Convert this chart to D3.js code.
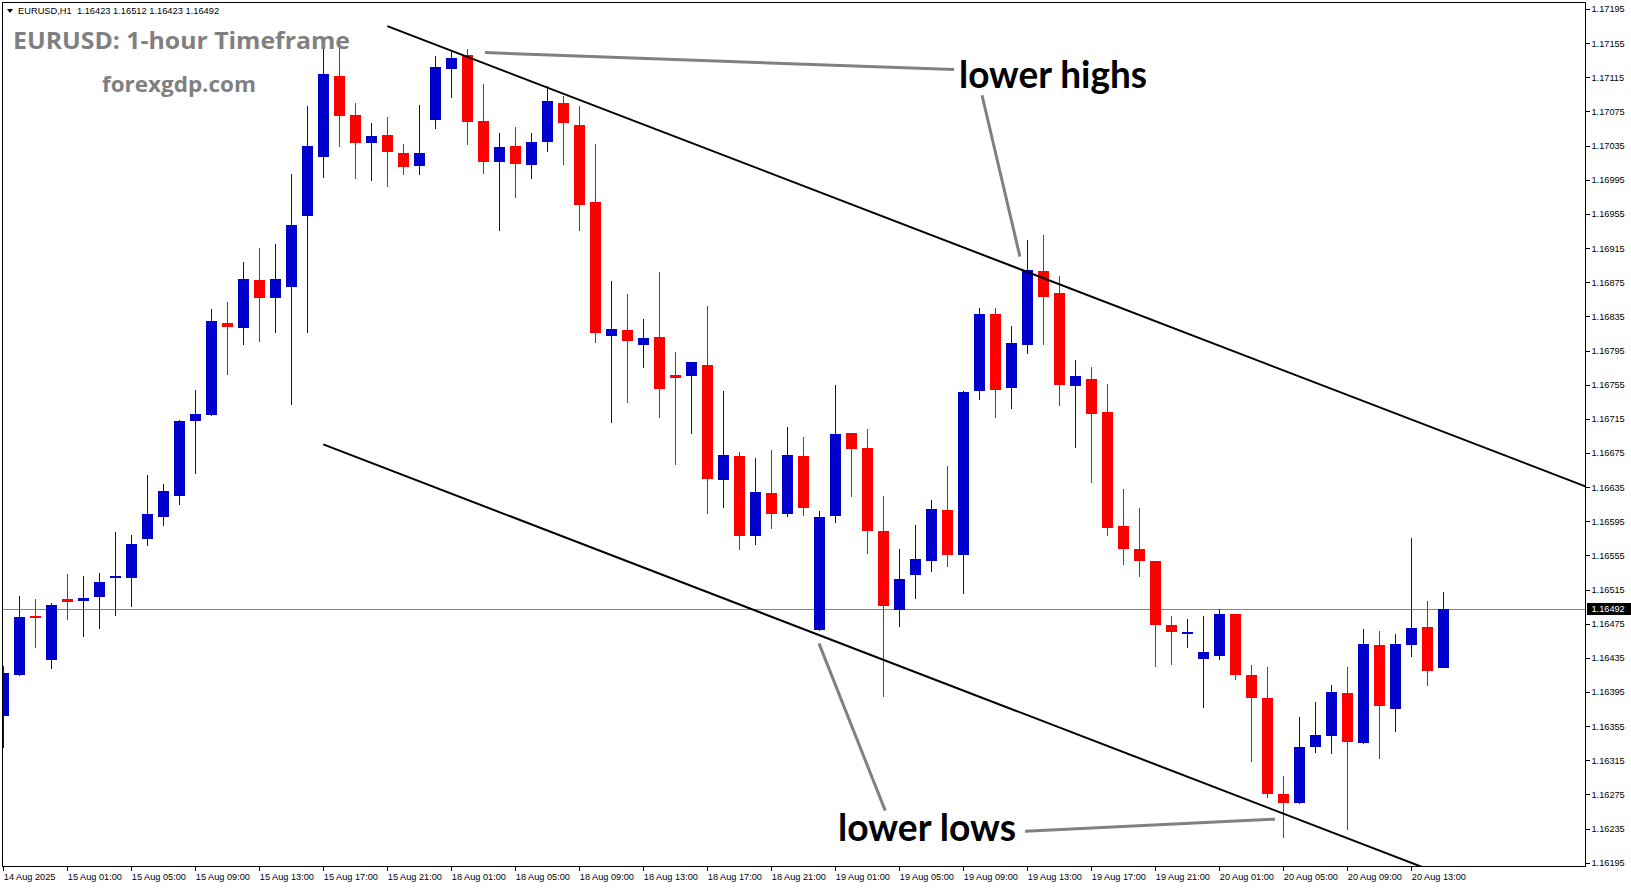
<!DOCTYPE html>
<html><head><meta charset="utf-8">
<script src="https://cdn.jsdelivr.net/npm/d3@7"></script>
<style>html,body{margin:0;padding:0;background:#fff;overflow:hidden}</style>
</head><body>
<svg id="c" width="1631" height="888"></svg>
<script>
// ---- data (EURUSD H1, bars from 14 Aug 21:00 to 20 Aug 15:00) ----
const opens = [1.16367,1.16415,1.16484,1.16432,1.16504,1.16502,1.16506,1.16528,1.16529,1.16574,
1.16600,1.16624,1.16712,1.16719,1.16827,1.16821,1.16877,1.16856,1.16869,1.16953,
1.17022,1.17117,1.17071,1.17038,1.17047,1.17026,1.17011,1.17065,1.17125,1.17141,
1.17064,1.17016,1.17035,1.17012,1.17039,1.17085,1.17059,1.16969,1.16812,1.16819,
1.16802,1.16811,1.16766,1.16765,1.16778,1.16643,1.16671,1.16578,1.16628,1.16603,
1.16671,1.16468,1.16601,1.16698,1.16681,1.16584,1.16491,1.16532,1.16548,1.16608,
1.16556,1.16747,1.16838,1.16751,1.16802,1.16888,1.16862,1.16753,1.16762,1.16723,
1.16590,1.16563,1.16548,1.16473,1.16463,1.16434,1.16437,1.16486,1.16415,1.16388,
1.16275,1.16265,1.16331,1.16344,1.16394,1.16335,1.16450,1.16375,1.16450,1.16471,1.16423];
const highs = [1.16425,1.16507,1.16504,1.16499,1.16533,1.16531,1.16534,1.16582,1.16579,1.16649,
1.16639,1.16714,1.16749,1.16844,1.16852,1.16899,1.16915,1.16920,1.17002,1.17081,
1.17154,1.17152,1.17085,1.17062,1.17069,1.17037,1.17083,1.17140,1.17147,1.17148,
1.17107,1.17050,1.17057,1.17050,1.17105,1.17093,1.17081,1.17037,1.16876,1.16861,
1.16832,1.16887,1.16793,1.16781,1.16847,1.16748,1.16676,1.16669,1.16678,1.16705,
1.16694,1.16607,1.16755,1.16698,1.16703,1.16625,1.16563,1.16591,1.16620,1.16660,
1.16748,1.16845,1.16845,1.16824,1.16924,1.16930,1.16882,1.16784,1.16776,1.16756,
1.16633,1.16610,1.16548,1.16484,1.16480,1.16484,1.16492,1.16486,1.16427,1.16424,
1.16297,1.16366,1.16383,1.16403,1.16424,1.16469,1.16467,1.16463,1.16575,1.16502,1.16512];
const lows = [1.16329,1.16414,1.16446,1.16422,1.16479,1.16460,1.16469,1.16484,1.16495,1.16566,
1.16589,1.16614,1.16650,1.16718,1.16766,1.16802,1.16805,1.16816,1.16731,1.16816,
1.16997,1.17033,1.16996,1.16994,1.16987,1.17001,1.17001,1.17055,1.17091,1.17036,
1.17002,1.16935,1.16974,1.16996,1.17028,1.17012,1.16935,1.16804,1.16710,1.16733,
1.16775,1.16716,1.16661,1.16697,1.16603,1.16610,1.16561,1.16567,1.16586,1.16600,
1.16601,1.16467,1.16593,1.16623,1.16557,1.16389,1.16471,1.16504,1.16535,1.16541,
1.16510,1.16737,1.16716,1.16727,1.16791,1.16801,1.16730,1.16681,1.16640,1.16578,
1.16544,1.16530,1.16424,1.16427,1.16446,1.16376,1.16432,1.16409,1.16313,1.16271,
1.16224,1.16264,1.16324,1.16322,1.16233,1.16334,1.16317,1.16348,1.16436,1.16402,1.16423];
const closes = [1.16417,1.16483,1.16482,1.16497,1.16500,1.16505,1.16524,1.16531,1.16568,1.16603,
1.16630,1.16712,1.16721,1.16830,1.16823,1.16879,1.16857,1.16879,1.16942,1.17034,
1.17119,1.17070,1.17038,1.17046,1.17027,1.17010,1.17026,1.17127,1.17138,1.17063,
1.17016,1.17033,1.17013,1.17039,1.17087,1.17062,1.16965,1.16816,1.16820,1.16806,
1.16810,1.16750,1.16763,1.16781,1.16644,1.16673,1.16578,1.16629,1.16603,1.16673,
1.16610,1.16600,1.16697,1.16680,1.16584,1.16496,1.16527,1.16551,1.16609,1.16555,
1.16746,1.16838,1.16749,1.16804,1.16889,1.16858,1.16755,1.16765,1.16721,1.16587,
1.16563,1.16548,1.16474,1.16465,1.16465,1.16442,1.16486,1.16415,1.16388,1.16276,
1.16265,1.16331,1.16345,1.16395,1.16336,1.16451,1.16379,1.16451,1.16470,1.16420,1.16492];

const priceTicks = [1.17195,1.17155,1.17115,1.17075,1.17035,1.16995,1.16955,1.16915,1.16875,
1.16835,1.16795,1.16755,1.16715,1.16675,1.16635,1.16595,1.16555,1.16515,1.16475,
1.16435,1.16395,1.16355,1.16315,1.16275,1.16235,1.16195];
const timeTickIndex = [0,4,8,12,16,20,24,28,32,36,40,44,48,52,56,60,64,68,72,76,80,84,88];
const timeLabels = ["14 Aug 2025","15 Aug 01:00","15 Aug 05:00","15 Aug 09:00","15 Aug 13:00",
"15 Aug 17:00","15 Aug 21:00","18 Aug 01:00","18 Aug 05:00","18 Aug 09:00","18 Aug 13:00",
"18 Aug 17:00","18 Aug 21:00","19 Aug 01:00","19 Aug 05:00","19 Aug 09:00","19 Aug 13:00",
"19 Aug 17:00","19 Aug 21:00","20 Aug 01:00","20 Aug 05:00","20 Aug 09:00","20 Aug 13:00"];
const lastPrice = 1.16492;
const headerText = "EURUSD,H1  1.16423 1.16512 1.16423 1.16492";
// channel trend lines: two anchors [barIndex, price], drawn as rays to the right
const upperLine = [[24, 1.17175], [64, 1.16887]];
const lowerLine = [[20, 1.16685], [49, 1.16476]];
// grey pointer lines [barIndex, price]
const pointerLines = [
  [[30.1, 1.17144], [59.42, 1.17124]],
  [[61.17, 1.17094], [63.54, 1.16905]],
  [[50.98, 1.16452], [55.12, 1.16256]],
  [[63.86, 1.16232], [79.48, 1.16246]]
];

// ---- layout ----
const W = 1631, H = 888;
const plotL = 3, plotT = 2, plotR = 1585, plotB = 866;
const svg = d3.select("#c");
const x = d3.scaleLinear().domain([0, 90]).range([3.3, 1443.3]);
const y = d3.scaleLinear().domain([1.17195, 1.16195]).range([9, 862.75]);

svg.append("defs").append("clipPath").attr("id","clip")
  .append("rect").attr("x",plotL).attr("y",plotT).attr("width",plotR-plotL).attr("height",plotB-plotT);

const plot = svg.append("g").attr("clip-path","url(#clip)");

// last price line
const ly = Math.round(y(lastPrice)) + 0.5;
plot.append("line").attr("x1",plotL).attr("x2",plotR).attr("y1",ly).attr("y2",ly)
  .attr("stroke","#778899").attr("stroke-width",1).attr("shape-rendering","crispEdges");

// candles
const bars = d3.range(opens.length).map(i => ({i, o:opens[i], h:highs[i], l:lows[i], c:closes[i]}));
const BLUE = "#0000cc", RED = "#ff0000";
const cg = plot.append("g").attr("shape-rendering","crispEdges");
const candle = cg.selectAll("g.c").data(bars).join("g").attr("class","c");
candle.append("rect")
  .attr("x", d => Math.round(x(d.i)))
  .attr("width", 1)
  .attr("y", d => Math.round(y(d.h)))
  .attr("height", d => Math.max(1, Math.round(y(d.l)) - Math.round(y(d.h))))
  .attr("fill", d => d.c > d.o ? BLUE : RED);
candle.append("rect")
  .attr("x", d => Math.round(x(d.i)) - 5)
  .attr("width", 11)
  .attr("y", d => Math.round(y(Math.max(d.o,d.c))))
  .attr("height", d => Math.max(2, Math.round(y(Math.min(d.o,d.c))) - Math.round(y(Math.max(d.o,d.c)))))
  .attr("fill", d => d.c > d.o ? BLUE : RED);

// trend lines (rays)
function ray(pts){
  const [a,b] = pts;
  const slope = (b[1]-a[1])/(b[0]-a[0]);
  const iEnd = x.invert(plotR + 2);
  return [[a[0],a[1]],[iEnd, a[1] + slope*(iEnd - a[0])]];
}
const lineGen = d3.line().x(d => x(d[0])).y(d => y(d[1]));
[upperLine, lowerLine].forEach(l => {
  plot.append("path").attr("d", lineGen(ray(l))).attr("fill","none")
    .attr("stroke","#000").attr("stroke-width",2);
});
pointerLines.forEach(l => {
  svg.append("path").attr("d", lineGen(l)).attr("fill","none")
    .attr("stroke","#808080").attr("stroke-width",3);
});

// frame
svg.append("line").attr("x1",plotL-0.5).attr("x2",plotL-0.5).attr("y1",plotT).attr("y2",plotB)
  .attr("stroke","#000").attr("shape-rendering","crispEdges");
svg.append("line").attr("x1",plotL-1).attr("x2",plotR).attr("y1",plotT+0.5).attr("y2",plotT+0.5)
  .attr("stroke","#000").attr("shape-rendering","crispEdges");

// axes
const axFont = "'Liberation Sans', Arial, sans-serif";
const yAxis = d3.axisRight(y).tickValues(priceTicks).tickSize(4).tickSizeOuter(0)
  .tickFormat(d3.format(".5f"));
const gy = svg.append("g").attr("transform",`translate(${plotR+0.5},0)`).call(yAxis);
gy.select(".domain").remove();
gy.append("line").attr("x1",0).attr("x2",0).attr("y1",plotT).attr("y2",plotB+1).attr("stroke","#000");
gy.selectAll(".tick line").attr("stroke","#000");
gy.selectAll(".tick text").attr("x",6).attr("fill","#000")
  .style("font-family",axFont).style("font-size","9.2px");
gy.attr("shape-rendering","crispEdges");

const xAxis = d3.axisBottom(x).tickValues(timeTickIndex).tickSize(4).tickSizeOuter(0)
  .tickFormat((d,i) => timeLabels[i]);
const gx = svg.append("g").attr("transform",`translate(0,${plotB+0.5})`).call(xAxis);
gx.select(".domain").remove();
gx.append("line").attr("x1",plotL-1).attr("x2",plotR).attr("y1",0).attr("y2",0).attr("stroke","#000");
gx.selectAll(".tick line").attr("stroke","#000");
gx.selectAll(".tick text").attr("text-anchor","start").attr("x",0).attr("y",7).attr("fill","#000")
  .style("font-family",axFont).style("font-size","9.2px");
gx.attr("shape-rendering","crispEdges");

// last price tag
const tagY = Math.round(y(lastPrice));
svg.append("rect").attr("x",plotR+2).attr("y",tagY-6).attr("width",W-plotR-2).attr("height",12).attr("fill","#000");
svg.append("text").attr("x",plotR+6.5).attr("y",tagY).attr("dy","0.35em").attr("fill","#fff")
  .style("font-family",axFont).style("font-size","9.2px").text(d3.format(".5f")(lastPrice));

// header
svg.append("path").attr("d","M7,9 L13,9 L10,13 Z").attr("fill","#000");
svg.append("text").attr("x",18).attr("y",13.5).attr("fill","#000").style("white-space","pre")
  .style("font-family",axFont).style("font-size","9.3px").text(headerText);

// titles & annotations
svg.append("text").attr("x",13).attr("y",48.5).attr("fill","#808080")
  .attr("textLength",337).attr("lengthAdjust","spacingAndGlyphs")
  .style("font-family","'Open Sans', sans-serif").style("font-weight","700").style("font-size","23.5px")
  .text("EURUSD: 1-hour Timeframe");
svg.append("text").attr("x",102).attr("y",92).attr("fill","#808080")
  .attr("textLength",154).attr("lengthAdjust","spacingAndGlyphs")
  .style("font-family","'Open Sans', sans-serif").style("font-weight","700").style("font-size","21px")
  .text("forexgdp.com");
svg.append("text").attr("x",959).attr("y",87.5).attr("fill","#000")
  .attr("textLength",188).attr("lengthAdjust","spacingAndGlyphs")
  .style("font-family","Lato, sans-serif").style("font-weight","700").style("font-size","38px")
  .text("lower highs");
svg.append("text").attr("x",838).attr("y",840.5).attr("fill","#000")
  .attr("textLength",178).attr("lengthAdjust","spacingAndGlyphs")
  .style("font-family","Lato, sans-serif").style("font-weight","700").style("font-size","38px")
  .text("lower lows");
</script>
</body></html>
